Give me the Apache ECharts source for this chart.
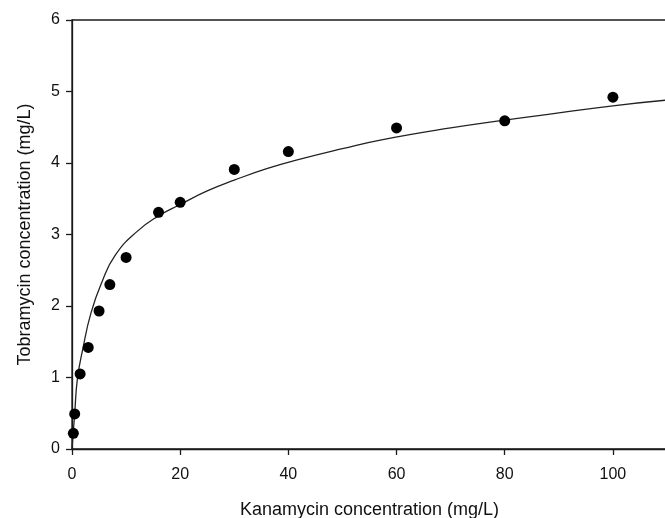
<!DOCTYPE html>
<html>
<head>
<meta charset="utf-8">
<script src="https://cdn.jsdelivr.net/npm/echarts@6/dist/echarts.min.js"></script>
<style>
  html, body { margin: 0; padding: 0; background: #fff; }
  #chart { width: 665px; height: 518px; }
</style>
</head>
<body>
<div id="chart"></div>
<script>
// measured points
var kanaX = [0.25, 0.5, 1.5, 3, 5, 7, 10, 16, 20, 30, 40, 60, 80, 100]
var tobraY = [0.22, 0.49, 1.05, 1.42, 1.93, 2.30, 2.68, 3.31, 3.45, 3.91, 4.16, 4.49, 4.59, 4.92]

// fitted curve
var fitX = [0, 0.5, 1, 2, 3.5, 5.5, 8, 12, 16, 20, 25, 30, 36, 42, 50, 57, 70, 80, 90, 100, 110]
var fitY = [0, 0.5, 0.98, 1.40, 1.90, 2.33, 2.71, 3.04, 3.26, 3.42, 3.61, 3.76, 3.92, 4.05, 4.20, 4.32, 4.49, 4.60, 4.70, 4.80, 4.88]

var xTicks = [0, 20, 40, 60, 80, 100]
var yTicks = [0, 1, 2, 3, 4, 5, 6]

var fontFamily = '"Liberation Sans", Arial, sans-serif'
var axisColor = '#1a1a1a'

var pts = kanaX.map(function (x, i) { return [x, tobraY[i]] })
var fit = fitX.map(function (x, i) { return [x, fitY[i]] })

var options = {
  animation: false,
  backgroundColor: '#fff',
  grid: {
    left: 72,
    right: -2,
    top: 20,
    bottom: 69,
    outerBoundsMode: 'none',
    containLabel: false,
    show: true,
    borderColor: axisColor,
    borderWidth: 1.3
  },
  xAxis: {
    type: 'value',
    min: xTicks[0],
    max: 110,
    interval: 20,
    name: 'Kanamycin concentration (mg/L)',
    nameLocation: 'middle',
    nameGap: 52,
    nameTextStyle: { color: '#111', fontSize: 18, fontFamily: fontFamily },
    axisLine: { show: true, onZero: false, lineStyle: { color: axisColor, width: 1.3 } },
    axisTick: { show: true, length: 6, lineStyle: { color: axisColor, width: 1.3 } },
    axisLabel: { color: '#111', fontSize: 16, fontFamily: fontFamily, margin: 18, showMaxLabel: false },
    splitLine: { show: false }
  },
  yAxis: {
    type: 'value',
    min: yTicks[0],
    max: yTicks[yTicks.length - 1],
    interval: 1,
    name: 'Tobramycin concentration (mg/L)',
    nameLocation: 'middle',
    nameGap: 38,
    nameTextStyle: { color: '#111', fontSize: 18, fontFamily: fontFamily },
    axisLine: { show: true, onZero: false, lineStyle: { color: axisColor, width: 1.3 } },
    axisTick: { show: true, length: 6, lineStyle: { color: axisColor, width: 1.3 } },
    axisLabel: { color: '#111', fontSize: 16, fontFamily: fontFamily, margin: 12 },
    splitLine: { show: false }
  },
  series: [
    {
      type: 'line',
      data: fit,
      smooth: 0.5,
      showSymbol: false,
      lineStyle: { color: '#222', width: 1.3 },
      z: 2
    },
    {
      type: 'scatter',
      data: pts,
      symbol: 'circle',
      symbolSize: 11,
      itemStyle: { color: '#000', opacity: 1 },
      z: 3
    }
  ]
}

var myChart = echarts.init(document.getElementById('chart'))
myChart.setOption(options)
</script>
</body>
</html>
